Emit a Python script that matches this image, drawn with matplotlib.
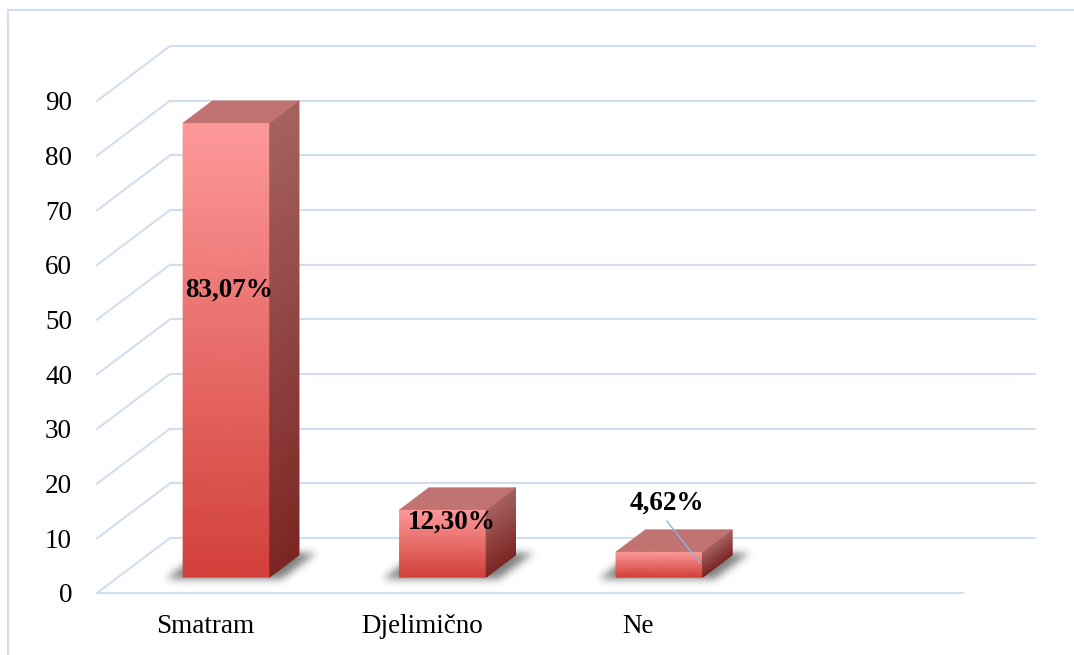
import numpy as np
import matplotlib
matplotlib.use("Agg")
import matplotlib.pyplot as plt
from matplotlib.patches import Polygon
from matplotlib.lines import Line2D
from matplotlib.colors import LinearSegmentedColormap

# ---------------- data ----------------
categories = ["Smatram", "Djelimično", "Ne"]
values = [83.07, 12.30, 4.62]
yticks = [0, 10, 20, 30, 40, 50, 60, 70, 80, 90]
n_slots = 4

# label placement (positions only): offset from bar centre (x, data units) and height
label_pos = [(0.01, 52.5), (0.04, 10.0), (0.035, 13.5)]

# ---------------- style ----------------
W, H = 1074, 655
GRID = "#D1DEF2"
FONT = "Liberation Serif"
front_top = np.array([253, 153, 153]) / 255
front_bot = np.array([210, 64, 58]) / 255
side_top = np.array([165, 98, 96]) / 255
side_bot = np.array([124, 38, 36]) / 255
top_col = np.array([192, 115, 113]) / 255
side_cmap = LinearSegmentedColormap.from_list("side", [side_bot, side_top])
front_cmap = LinearSegmentedColormap.from_list("front", [front_bot, front_top])

fig = plt.figure(figsize=(W / 100, H / 100), dpi=100)
fig.patch.set_facecolor("white")

# frame (top + left)
fig.add_artist(Line2D([8 / W, 1], [1 - 10 / H, 1 - 10 / H], color=GRID, lw=1.5))
fig.add_artist(Line2D([8 / W, 8 / W], [0, 1 - 10 / H], color=GRID, lw=1.5))

ax = fig.add_axes([97 / W, (H - 593) / H, 866 / W, (593 - 101) / H])
ax.set_xlim(0, n_slots)
ax.set_ylim(0, 90)
ax.set_autoscale_on(False)
ax.patch.set_visible(False)
for s in ax.spines.values():
    s.set_visible(False)

# pixel -> data unit conversion through the axes transform
p0 = ax.transData.transform((0, 0))
p1 = ax.transData.transform((1, 1))
sx, sy = p1[0] - p0[0], p1[1] - p0[1]


def off(dx_px, dy_px):
    return dx_px / sx, dy_px / sy


wall_dx, wall_dy = off(73, 55)
bf_dx, bf_dy = off(21.2, 16)
bb_dx, bb_dy = off(50.4, 38)
d_dx, d_dy = bb_dx - bf_dx, bb_dy - bf_dy
depth_px = (29.2, 22.0)

# ---------------- gridlines ----------------
for v in yticks:
    ax.plot([wall_dx, n_slots + wall_dx], [v + wall_dy, v + wall_dy],
            color=GRID, lw=1.5, clip_on=False, zorder=1, solid_capstyle="butt")
    ax.plot([0, wall_dx], [v, v + wall_dy], color=GRID, lw=1.5,
            clip_on=False, zorder=1)
ax.plot([0, n_slots], [0, 0], color=GRID, lw=1.5, clip_on=False, zorder=1)


def gauss_blur(a, sigma):
    r = int(3 * sigma)
    k = np.exp(-0.5 * (np.arange(-r, r + 1) / sigma) ** 2)
    k /= k.sum()
    a = np.apply_along_axis(lambda m: np.convolve(m, k, mode="same"), 0, a)
    a = np.apply_along_axis(lambda m: np.convolve(m, k, mode="same"), 1, a)
    return a


# ---------------- bars ----------------
bw = 0.4
t = np.linspace(0, 1, 40)
for i, v in enumerate(values):
    cx = i + 0.5
    x0 = cx - bw / 2 + bf_dx
    x1 = x0 + bw
    yb = bf_dy
    yt = v + bf_dy
    bw_px = bw * sx

    # soft shadow on the floor (blurred, widened footprint)
    mx, my = 40, 30
    gw = int(bw_px + depth_px[0] + 2 * mx)
    gh = int(depth_px[1] + 2 * my)
    gx, gy = np.meshgrid(np.arange(gw) - mx, np.arange(gh) - my)  # gy upward
    u = gx - gy * depth_px[0] / depth_px[1]
    mask = ((gy >= -2) & (gy <= depth_px[1] + 1) &
            (u >= -14) & (u <= bw_px + 14)).astype(float)
    alpha = gauss_blur(mask, 4.0) * 0.65
    rgba = np.zeros((gh, gw, 4))
    rgba[..., :3] = 0.22
    rgba[..., 3] = alpha
    ax.imshow(rgba, extent=[x0 - mx / sx, x0 + (gw - mx) / sx,
                            yb - my / sy, yb + (gh - my) / sy],
              origin="lower", aspect="auto", interpolation="bilinear",
              zorder=2, clip_on=False)

    # front face gradient
    ys = yb + v * t
    X = np.column_stack([np.full_like(ys, x0), np.full_like(ys, x1)])
    Y = np.column_stack([ys, ys])
    C = np.column_stack([t, t])
    ax.pcolormesh(X, Y, C, shading="gouraud", cmap=front_cmap, vmin=0, vmax=1,
                  zorder=3, clip_on=False)
    # side face gradient (parallelogram)
    X = np.column_stack([np.full_like(ys, x1), np.full_like(ys, x1 + d_dx)])
    Y = np.column_stack([ys, ys + d_dy])
    ax.pcolormesh(X, Y, C, shading="gouraud", cmap=side_cmap, vmin=0, vmax=1,
                  zorder=3, clip_on=False)
    # top face
    ax.add_patch(Polygon([(x0, yt), (x1, yt), (x1 + d_dx, yt + d_dy), (x0 + d_dx, yt + d_dy)],
                         closed=True, facecolor=top_col, edgecolor=top_col, lw=0.4,
                         clip_on=False, zorder=4))

    # value label
    lx, ly = label_pos[i]
    txt = f"{v:.2f}%".replace(".", ",")
    ax.text(cx + bf_dx + lx, ly + bf_dy, txt, ha="center", va="center",
            fontsize=19.5, fontweight="bold", family=FONT, color="black",
            zorder=6, clip_on=False)

# leader line for the smallest bar
i = 2
lx, ly = label_pos[i]
ax.plot([i + 0.5 + bf_dx + lx, i + 0.5 + bf_dx + 0.187],
        [ly - 3.3 + bf_dy, values[i] * 0.55 + bf_dy],
        color="#8DB3E2", lw=1.0, zorder=5, clip_on=False)

# ---------------- ticks ----------------
ax.set_xlim(0, n_slots)
ax.set_ylim(0, 90)
ax.set_yticks(yticks)
ax.set_yticklabels([str(t) for t in yticks], family=FONT, fontsize=19.5)
ax.set_xticks([i + 0.5 for i in range(len(categories))])
ax.set_xticklabels(categories, family=FONT, fontsize=19.5)
ax.tick_params(axis="y", length=0, pad=18)
ax.tick_params(axis="x", length=0, pad=15)

fig.savefig("out.png", dpi=100, facecolor="white")
